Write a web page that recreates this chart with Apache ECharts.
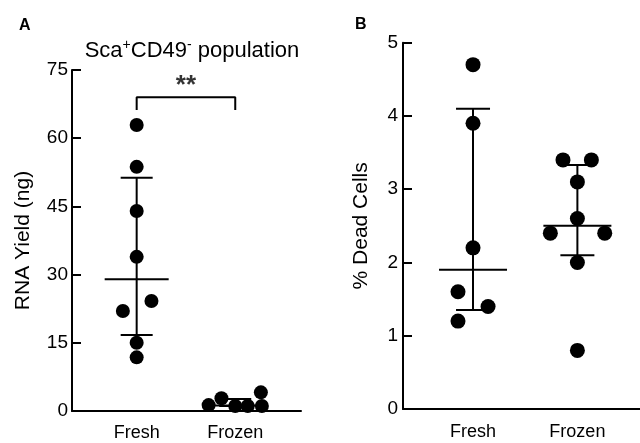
<!DOCTYPE html>
<html><head><meta charset="utf-8">
<script src="https://cdn.jsdelivr.net/npm/echarts@6/dist/echarts.min.js"></script>
<style>html,body{margin:0;padding:0;background:#fff}#c{width:640px;height:443px}</style>
</head><body><div id="c"></div>
<script>
// ---- data ----
const categories = ['Fresh', 'Frozen'];
const categoryPos = [1, 2];
const yTicksA = [0, 15, 30, 45, 60, 75];
const yTicksB = [0, 1, 2, 3, 4, 5];

// Panel A: RNA yield (ng)
const rnaFresh = [62.9, 53.7, 44.0, 33.9, 24.2, 22.0, 15.0, 11.8];
const rnaFreshJitter = [0, 0, 0, 0, 0.15, -0.14, 0, 0];
const rnaFrozen = [1.3, 2.8, 1.1, 1.1, 4.1, 1.1];
const rnaFrozenJitter = [-0.27, -0.14, 0, 0.127, 0.26, 0.27];
// [median, lower, upper]
const rnaFreshSummary = [29.0, 16.7, 51.3];
const rnaFrozenSummary = [1.2, 1.1, 2.64];
const sigBracket = [66.2, 69.0];
const sigLabel = '**';
const sigLabelY = 71.5;

// Panel B: % dead cells
const deadFresh = [4.7, 3.9, 2.2, 1.6, 1.4, 1.2];
const deadFreshJitter = [0, 0, 0, -0.144, 0.144, -0.144];
const deadFrozen = [3.4, 3.4, 3.1, 2.6, 2.4, 2.4, 2.0, 0.8];
const deadFrozenJitter = [-0.138, 0.134, 0, 0, -0.259, 0.262, 0, 0];
const deadFreshSummary = [1.9, 1.35, 4.1];
const deadFrozenSummary = [2.5, 2.1, 3.33];

// ---- chart ----
const FONT = 'Liberation Sans, Arial, sans-serif';
const chart = echarts.init(document.getElementById('c'), null, {renderer: 'canvas'});

function pts(vals, jit, pos) { return vals.map((v, i) => [pos + jit[i], v]); }
function summaryRow(pos, s) { return [pos, s[0], s[1], s[2]]; }

function errRender(hw, cw) {
  return function (params, api) {
    const x = api.value(0);
    const pM = api.coord([x, api.value(1)]);
    const pL = api.coord([x, api.value(2)]);
    const pH = api.coord([x, api.value(3)]);
    const st = {stroke: '#000', lineWidth: 2};
    return {type: 'group', children: [
      {type: 'line', shape: {x1: pL[0], y1: pL[1], x2: pH[0], y2: pH[1]}, style: st},
      {type: 'line', shape: {x1: pM[0] - hw, y1: pM[1], x2: pM[0] + hw, y2: pM[1]}, style: st},
      {type: 'line', shape: {x1: pL[0] - cw, y1: pL[1], x2: pL[0] + cw, y2: pL[1]}, style: st},
      {type: 'line', shape: {x1: pH[0] - cw, y1: pH[1], x2: pH[0] + cw, y2: pH[1]}, style: st}
    ]};
  };
}

function xAxis(gridIndex, min, max, margin) {
  return {
    type: 'value', gridIndex, min, max,
    axisLine: {show: true, onZero: false, lineStyle: {color: '#000', width: 2}},
    axisTick: {show: false},
    splitLine: {show: false},
    axisLabel: {
      customValues: categoryPos,
      formatter: v => categories[categoryPos.indexOf(Math.round(v))] || '',
      color: '#000', fontSize: 18, fontFamily: FONT, margin
    }
  };
}
function yAxis(gridIndex, ticks, name, nameGap, margin) {
  return {
    type: 'value', gridIndex,
    min: ticks[0], max: ticks[ticks.length - 1], interval: ticks[1] - ticks[0],
    name, nameLocation: 'middle', nameGap,
    nameTextStyle: {color: '#000', fontSize: 21, fontFamily: FONT},
    axisLine: {show: true, lineStyle: {color: '#000', width: 2}},
    axisTick: {show: true, inside: true, length: 9, lineStyle: {color: '#000', width: 2}},
    splitLine: {show: false},
    axisLabel: {color: '#000', fontSize: 19, fontFamily: FONT, margin}
  };
}

const dot = {type: 'scatter', symbol: 'circle', itemStyle: {color: '#000', opacity: 1}, z: 5, silent: true};

chart.setOption({
  animation: false,
  backgroundColor: '#fff',
  title: [
    {text: 'A', left: 14, top: 13, textStyle: {fontSize: 16, fontWeight: 'bold', color: '#000', fontFamily: FONT}},
    {text: 'B', left: 350, top: 12, textStyle: {fontSize: 16, fontWeight: 'bold', color: '#000', fontFamily: FONT}},
    {
      text: '{a|Sca}{s|+}{a|CD49}{s|-}{a| population}',
      left: 187, top: 33, textAlign: 'center',
      textStyle: {
        fontWeight: 'normal',
        rich: {
          a: {fontSize: 22, fontWeight: 'normal', fontFamily: FONT, color: '#000', lineHeight: 26},
          s: {fontSize: 14, fontWeight: 'normal', fontFamily: FONT, color: '#000', verticalAlign: 'top', lineHeight: 14}
        }
      }
    }
  ],
  grid: [
    {left: 72, top: 70, width: 229, height: 341, containLabel: false},
    {left: 403, top: 42.7, width: 237, height: 366.3, containLabel: false}
  ],
  xAxis: [xAxis(0, 0.344, 2.667, 13), xAxis(1, 0.329, 2.6, 14)],
  yAxis: [yAxis(0, yTicksA, 'RNA Yield (ng)', 38, 4), yAxis(1, yTicksB, '% Dead Cells', 31, 5)],
  series: [
    {type: 'custom', xAxisIndex: 0, yAxisIndex: 0, z: 2, silent: true,
     renderItem: errRender(32, 16),
     data: [summaryRow(categoryPos[0], rnaFreshSummary), summaryRow(categoryPos[1], rnaFrozenSummary)]},
    {type: 'custom', xAxisIndex: 1, yAxisIndex: 1, z: 2, silent: true,
     renderItem: errRender(34, 17),
     data: [summaryRow(categoryPos[0], deadFreshSummary), summaryRow(categoryPos[1], deadFrozenSummary)]},
    Object.assign({}, dot, {xAxisIndex: 0, yAxisIndex: 0, symbolSize: 14, data: pts(rnaFresh, rnaFreshJitter, categoryPos[0])}),
    Object.assign({}, dot, {xAxisIndex: 0, yAxisIndex: 0, symbolSize: 14, data: pts(rnaFrozen, rnaFrozenJitter, categoryPos[1])}),
    Object.assign({}, dot, {xAxisIndex: 1, yAxisIndex: 1, symbolSize: 15, data: pts(deadFresh, deadFreshJitter, categoryPos[0])}),
    Object.assign({}, dot, {xAxisIndex: 1, yAxisIndex: 1, symbolSize: 15, data: pts(deadFrozen, deadFrozenJitter, categoryPos[1])}),
    {type: 'line', xAxisIndex: 0, yAxisIndex: 0, symbol: 'none', silent: true, z: 3,
     lineStyle: {color: '#000', width: 2},
     data: [[categoryPos[0], sigBracket[0]], [categoryPos[0], sigBracket[1]], [categoryPos[1], sigBracket[1]], [categoryPos[1], sigBracket[0]]]},
    {type: 'scatter', xAxisIndex: 0, yAxisIndex: 0, symbolSize: 2, itemStyle: {color: 'rgba(0,0,0,0)'}, silent: true, z: 6,
     label: {show: true, position: 'inside', formatter: sigLabel, color: '#000', fontSize: 26, fontWeight: 'bold', fontFamily: FONT, textBorderWidth: 0},
     data: [[(categoryPos[0] + categoryPos[1]) / 2, sigLabelY]]}
  ]
});
</script>
</body></html>
